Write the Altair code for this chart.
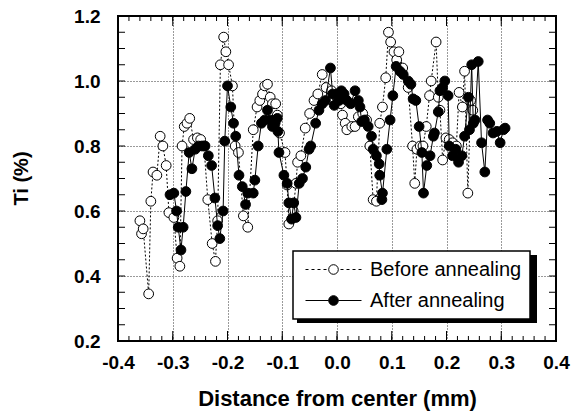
import altair as alt
import pandas as pd

# ---------------- data ----------------
series_names = ["Before annealing", "After annealing"]

before_x = [-0.360, -0.357, -0.354, -0.344, -0.340, -0.336, -0.329, -0.323, -0.318, -0.312,
            -0.307, -0.298, -0.292, -0.287, -0.283, -0.279, -0.274, -0.269, -0.262, -0.255,
            -0.249, -0.243, -0.236, -0.228, -0.222, -0.218, -0.213, -0.207, -0.203, -0.198,
            -0.191, -0.186, -0.180, -0.171, -0.163, -0.153, -0.146, -0.141, -0.136, -0.132,
            -0.127, -0.122, -0.118, -0.112, -0.109, -0.105, -0.095, -0.091, -0.088, -0.080,
            -0.075, -0.072, -0.066, -0.058, -0.050, -0.042, -0.035, -0.027, -0.020, -0.010,
            0.000, 0.007, 0.010, 0.015, 0.018, 0.027, 0.033, 0.039, 0.047, 0.054,
            0.060, 0.066, 0.072, 0.078, 0.083, 0.089, 0.094, 0.098, 0.104, 0.109,
            0.113, 0.120, 0.130, 0.138, 0.142, 0.146, 0.152, 0.157, 0.163, 0.169,
            0.172, 0.181, 0.185, 0.188, 0.193, 0.199, 0.205, 0.211, 0.218, 0.223,
            0.229, 0.233, 0.239, 0.244, 0.248]
before_y = [0.57, 0.53, 0.545, 0.345, 0.63, 0.72, 0.71, 0.83, 0.80, 0.74,
            0.595, 0.58, 0.455, 0.43, 0.80, 0.86, 0.87, 0.885, 0.82, 0.825,
            0.82, 0.80, 0.635, 0.50, 0.445, 0.57, 1.05, 1.135, 1.09, 1.05,
            0.985, 0.80, 0.78, 0.585, 0.55, 0.85, 0.92, 0.94, 0.96, 0.985,
            0.99, 0.95, 0.93, 0.93, 0.895, 0.84, 0.78, 0.68, 0.56, 0.60,
            0.685, 0.75, 0.77, 0.855, 0.90, 0.94, 0.96, 1.02, 0.98, 0.97,
            0.95, 0.93, 0.895, 0.87, 0.85, 0.86, 0.86, 0.89, 0.90, 0.88,
            0.80, 0.635, 0.63, 0.87, 0.92, 1.01, 1.15, 1.12, 1.09, 1.065,
            1.09, 1.04, 0.98, 0.80, 0.685, 0.79, 0.80, 0.80, 0.86, 0.955,
            1.00, 1.12, 0.95, 0.91, 0.757, 0.825, 0.82, 0.81, 0.80, 0.965,
            0.92, 1.03, 0.655, 0.94, 0.91]

after_x = [-0.305, -0.298, -0.293, -0.290, -0.285, -0.281, -0.276, -0.270, -0.265, -0.259,
           -0.253, -0.247, -0.241, -0.235, -0.229, -0.223, -0.218, -0.214, -0.208, -0.205,
           -0.200, -0.194, -0.189, -0.185, -0.179, -0.173, -0.167, -0.163, -0.153, -0.150,
           -0.144, -0.138, -0.132, -0.127, -0.122, -0.118, -0.113, -0.109, -0.108, -0.106,
           -0.097, -0.091, -0.088, -0.083, -0.079, -0.075, -0.069, -0.063, -0.057, -0.051,
           -0.048, -0.039, -0.033, -0.027, -0.021, -0.012, -0.008, -0.005, 0.000, 0.004,
           0.008, 0.013, 0.018, 0.025, 0.033, 0.039, 0.042, 0.045, 0.050, 0.057,
           0.063, 0.066, 0.072, 0.077, 0.078, 0.083, 0.082, 0.091, 0.097, 0.102,
           0.108, 0.115, 0.121, 0.130, 0.135, 0.139, 0.144, 0.150, 0.155, 0.158,
           0.164, 0.170, 0.176, 0.178, 0.185, 0.188, 0.193, 0.197, 0.203, 0.205,
           0.211, 0.217, 0.222, 0.228, 0.233, 0.240, 0.242, 0.246, 0.249, 0.252,
           0.258, 0.264, 0.270, 0.275, 0.279, 0.285, 0.292, 0.298, 0.304, 0.307]
after_y = [0.65, 0.655, 0.60, 0.55, 0.48, 0.55, 0.66, 0.78, 0.73, 0.79,
           0.80, 0.80, 0.80, 0.77, 0.74, 0.64, 0.555, 0.515, 0.60, 0.815,
           0.985, 0.92, 0.87, 0.83, 0.71, 0.675, 0.62, 0.655, 0.655, 0.695,
           0.80, 0.87, 0.88, 0.91, 0.88, 0.86, 0.87, 0.885, 0.845, 0.78,
           0.71, 0.685, 0.625, 0.575, 0.625, 0.58, 0.685, 0.70, 0.735, 0.79,
           0.80, 0.87, 0.91, 0.93, 0.94, 1.04, 0.96, 0.925, 0.96, 0.94,
           0.97, 0.96, 0.94, 0.93, 0.97, 0.94, 0.92, 0.875, 0.88, 0.86,
           0.83, 0.79, 0.77, 0.745, 0.71, 0.655, 0.635, 0.79, 0.88, 0.955,
           1.045, 1.03, 1.02, 1.00, 0.99, 0.945, 0.94, 0.86, 0.78, 0.655,
           0.74, 0.77, 0.83, 0.84, 0.905, 0.97, 0.98, 1.00, 0.955, 0.80,
           0.77, 0.79, 0.75, 0.77, 0.83, 0.95, 0.85, 1.05, 0.87, 0.88,
           1.06, 0.81, 0.72, 0.88, 0.87, 0.84, 0.845, 0.81, 0.85, 0.855]

x_major = [-0.4, -0.3, -0.2, -0.1, 0.0, 0.1, 0.2, 0.3, 0.4]
y_major = [0.2, 0.4, 0.6, 0.8, 1.0, 1.2]
x_minor = [round(-0.4 + 0.02 * i, 2) for i in range(41)]
y_minor = [round(0.2 + 0.05 * i, 2) for i in range(21)]

# ---------------- layout / style ----------------
W, H = 438, 325
FONT = "Liberation Sans"
LEG_X, LEG_Y = 175, 235
LEG_W, LEG_H = 240, 68
X_TITLE = "Distance from center (mm)"
Y_TITLE = "Ti (%)"

before_df = pd.DataFrame({"x": before_x, "y": before_y, "i": list(range(len(before_x)))})
after_df = pd.DataFrame({"x": after_x, "y": after_y, "i": list(range(len(after_x)))})

xs = alt.Scale(domain=[-0.4, 0.4], nice=False, zero=False)
ys = alt.Scale(domain=[0.2, 1.2], nice=False, zero=False)

x_axis = alt.Axis(values=x_major, grid=True, gridColor="black", gridDash=[1, 2], gridWidth=0.8,
                  ticks=False, domain=False, labelFlush=False, labelOverlap=False,
                  labelExpr="datum.value < 0 ? '-' + format(-datum.value, '.1f') : format(datum.value, '.1f')",
                  labelFont=FONT, labelFontSize=19, labelFontWeight="bold", labelColor="black",
                  labelPadding=12, titleFont=FONT, titleFontSize=22, titleFontWeight="bold",
                  titleColor="black", titleY=57, titleBaseline="middle")
y_axis = alt.Axis(values=y_major, format=".1f", grid=True, gridColor="black", gridDash=[1, 2],
                  gridWidth=0.8, ticks=False, domain=False, labelFlush=False, labelOverlap=False,
                  labelFont=FONT, labelFontSize=19, labelFontWeight="bold", labelColor="black",
                  labelPadding=18, labelBaseline="middle", titleFont=FONT, titleFontSize=20,
                  titleFontWeight="bold", titleColor="black", titleX=-97, titleY=162,
                  titleBaseline="middle")

X = alt.X("x:Q", scale=xs, axis=x_axis, title=X_TITLE)
Y = alt.Y("y:Q", scale=ys, axis=y_axis, title=Y_TITLE)
XT = alt.X("v:Q", scale=xs, axis=x_axis, title=X_TITLE)
YT = alt.Y("v:Q", scale=ys, axis=y_axis, title=Y_TITLE)

before_line = alt.Chart(before_df).mark_line(color="black", strokeWidth=1, strokeDash=[2, 2]).encode(
    x=X, y=Y, order="i:Q")
before_pts = alt.Chart(before_df).mark_point(filled=True, fill="white", stroke="black", strokeWidth=1,
                                             size=95, opacity=1).encode(x=X, y=Y)
after_line = alt.Chart(after_df).mark_line(color="black", strokeWidth=1).encode(x=X, y=Y, order="i:Q")
after_pts = alt.Chart(after_df).mark_point(filled=True, fill="black", stroke="black", strokeWidth=1,
                                           size=95, opacity=1).encode(x=X, y=Y)

# legend (built-in legend, custom line+circle symbols)
dash_path = ("M-2.8,0H-2.5M-2.2,0H-1.9M-1.6,0H-1.3M-1,0H-0.7M0.7,0H1M1.3,0H1.6M1.9,0H2.2M2.5,0H2.8"
             "M0.48,0A0.48,0.48,0,1,1,-0.48,0A0.48,0.48,0,1,1,0.48,0Z")
solid_path = ("M-2.8,0H-0.48M0.48,0H2.8"
              "M0.48,0A0.48,0.48,0,1,1,-0.48,0A0.48,0.48,0,1,1,0.48,0Z")

leg = alt.Legend(title=None, orient="none", legendX=LEG_X, legendY=LEG_Y, direction="vertical",
                 symbolSize=400, symbolOffset=22, labelOffset=26, rowPadding=10, padding=8,
                 strokeColor="black", fillColor="white", labelFont=FONT, labelFontSize=20,
                 labelColor="black", labelLimit=0, symbolStrokeWidth=1)

legend_layer = alt.Chart(pd.DataFrame({"series": series_names})).transform_filter("false").mark_point(
    filled=True, size=400, opacity=1).encode(
    shape=alt.Shape("series:N", scale=alt.Scale(domain=series_names, range=[dash_path, solid_path]),
                    legend=leg),
    fill=alt.Fill("series:N", scale=alt.Scale(domain=series_names, range=["white", "black"]),
                  legend=leg),
    stroke=alt.Stroke("series:N", scale=alt.Scale(domain=series_names, range=["black", "black"]),
                      legend=leg))

shadow = alt.Chart(pd.DataFrame({"a": [0]})).mark_rect(color="black").encode(
    x=alt.value(LEG_X + 4), x2=alt.value(LEG_X + LEG_W + 4),
    y=alt.value(LEG_Y + 4), y2=alt.value(LEG_Y + LEG_H + 4))

# inward ticks on all four sides
xmin_df = pd.DataFrame({"v": x_minor})
xmaj_df = pd.DataFrame({"v": x_major})
ymin_df = pd.DataFrame({"v": y_minor})
tick_style = dict(color="black", strokeWidth=1)
ticks = [
    alt.Chart(xmin_df).mark_rule(**tick_style).encode(x=XT, y=alt.value(H), y2=alt.value(H - 5)),
    alt.Chart(xmin_df).mark_rule(**tick_style).encode(x=XT, y=alt.value(0), y2=alt.value(5)),
    alt.Chart(xmaj_df).mark_rule(**tick_style).encode(x=XT, y=alt.value(H), y2=alt.value(H - 10)),
    alt.Chart(xmaj_df).mark_rule(**tick_style).encode(x=XT, y=alt.value(0), y2=alt.value(10)),
    alt.Chart(ymin_df).mark_rule(**tick_style).encode(y=YT, x=alt.value(0), x2=alt.value(7)),
    alt.Chart(ymin_df).mark_rule(**tick_style).encode(y=YT, x=alt.value(W), x2=alt.value(W - 7)),
]

chart = alt.layer(before_line, before_pts, after_line, after_pts, shadow, legend_layer, *ticks).properties(
    width=W, height=H,
    autosize=alt.AutoSizeParams(type="none"),
    padding={"left": 118, "top": 16, "right": 580 - 118 - W, "bottom": 420 - 16 - H},
).configure_view(stroke="black", strokeWidth=2).configure_legend(strokeWidth=1.5)

chart.save("out.html", embed_options={"renderer": "svg", "actions": False})
